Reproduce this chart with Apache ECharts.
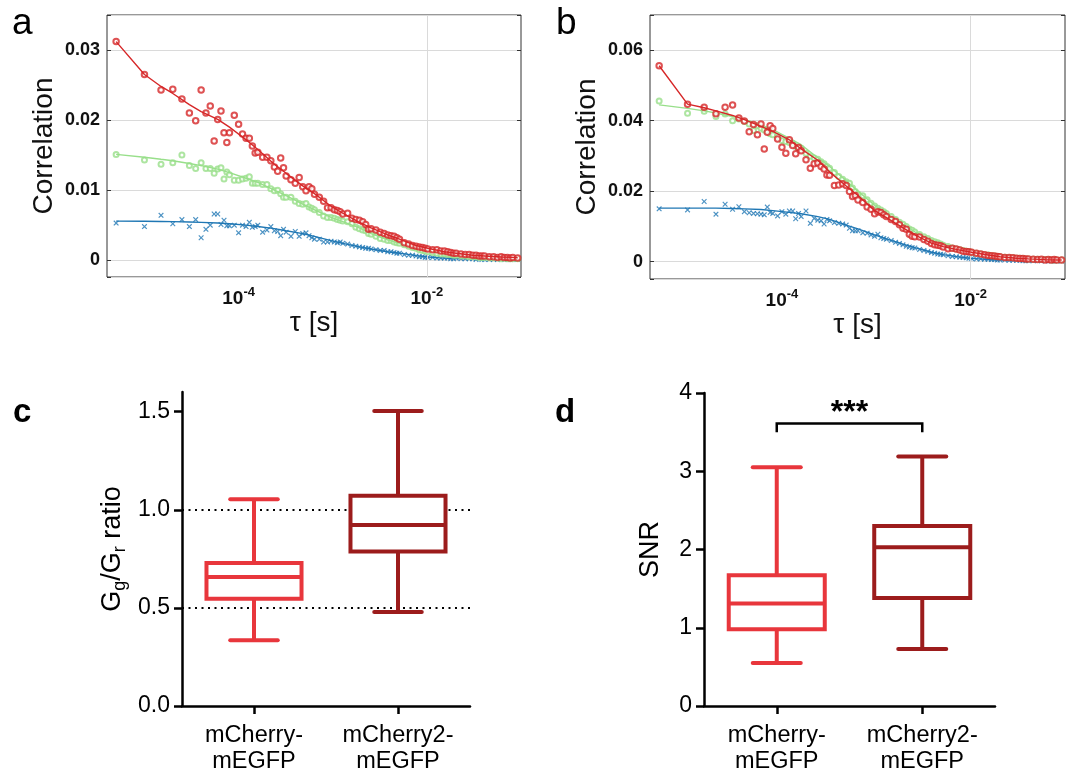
<!DOCTYPE html>
<html><head><meta charset="utf-8">
<script src="https://cdn.jsdelivr.net/npm/echarts@6/dist/echarts.min.js"></script>
<style>html,body{margin:0;padding:0;background:#fff}#c{width:1072px;height:775px}</style>
</head><body><div id="c"></div>
<script>
// ---------- data ----------
const lagStep = 5e-6; // seconds per correlator channel
const lags = [1,2,3,4,5,6,7,8,9,10,11,12,13,14,15,16,
  18,20,22,24,26,28,30,32,
  36,40,44,48,52,56,60,64,
  72,80,88,96,104,112,120,128,
  144,160,176,192,208,224,240,256,
  288,320,352,384,416,448,480,512,
  576,640,704,768,832,896,960,1024,
  1152,1280,1408,1536,1664,1792,1920,2048,
  2304,2560,2816,3072,3328,3584,3840,4096,
  4608,5120,5632,6144,6656,7168,7680,8192,
  9216,10240,11264,12288,13312,14336,15360,16384,
  18432];
const fitLags = [1,2,3,4,6,8,12,16,24,32,48,64,96,128,192,256,384,512,768,1024,1536,2048,3072,4096,6144,8192,12288,16384,18432];

// panel a
const aRed = [0.0312,0.0265,0.0243,0.0244,0.0230,0.0210,0.0199,0.0243,0.0210,0.0220,0.0170,0.0201,0.0213,0.0182,0.0168,0.0182,
  0.0207,0.0194,0.0180,0.0174,0.0174,0.0163,0.0153,0.0154,
  0.0147,0.0147,0.0142,0.0133,0.0127,0.0146,0.0132,0.0120,
  0.0115,0.0110,0.0118,0.0105,0.0099,0.0105,0.0102,0.0094,
  0.0090,0.0084,0.0075,0.0075,0.0072,0.0071,0.0069,0.0066,
  0.0067,0.0060,0.0058,0.0057,0.0055,0.0051,0.0044,0.0045,
  0.0043,0.0040,0.0038,0.0036,0.0035,0.0034,0.0032,0.0030,
  0.0025,0.0023,0.0021,0.0020,0.0019,0.0018,0.0017,0.0016,
  0.0015,0.0015,0.0013,0.0013,0.0012,0.0011,0.0010,0.0010,
  0.0009,0.0008,0.0008,0.0007,0.0007,0.0006,0.0006,0.0006,
  0.0005,0.0005,0.0004,0.0005,0.0004,0.0004,0.0003,0.0004,
  0.0003];
const aGreen = [0.0151,0.0143,0.0137,0.0139,0.0150,0.0135,0.0131,0.0139,0.0131,0.0131,0.0124,0.0130,0.0132,0.0116,0.0126,0.0122,
  0.0114,0.0114,0.0116,0.0117,0.0119,0.0110,0.0110,0.0110,
  0.0108,0.0108,0.0102,0.0099,0.0100,0.0095,0.0090,0.0090,
  0.0090,0.0084,0.0081,0.0080,0.0081,0.0076,0.0074,0.0072,
  0.0068,0.0063,0.0061,0.0061,0.0060,0.0058,0.0057,0.0056,
  0.0055,0.0052,0.0047,0.0045,0.0043,0.0042,0.0038,0.0037,
  0.0034,0.0031,0.0030,0.0028,0.0028,0.0026,0.0025,0.0024,
  0.0022,0.0020,0.0018,0.0017,0.0015,0.0014,0.0013,0.0012,
  0.0011,0.0010,0.0009,0.0009,0.0008,0.0008,0.0007,0.0007,
  0.0006,0.0006,0.0005,0.0005,0.0005,0.0004,0.0004,0.0004,
  0.0003,0.0003,0.0003,0.0002,0.0003,0.0002,0.0002,0.0002,
  0.0002];
const aBlue = [0.0053,0.0048,0.0064,0.0052,0.0058,0.0048,0.0058,0.0032,0.0044,0.0050,0.0066,0.0066,0.0051,0.0057,0.0049,0.0049,
  0.0050,0.0039,0.0050,0.0048,0.0054,0.0047,0.0048,0.0050,
  0.0040,0.0043,0.0048,0.0042,0.0041,0.0035,0.0044,0.0040,
  0.0034,0.0041,0.0034,0.0038,0.0039,0.0035,0.0032,0.0030,
  0.0030,0.0026,0.0026,0.0027,0.0026,0.0025,0.0026,0.0024,
  0.0023,0.0021,0.0020,0.0019,0.0018,0.0017,0.0017,0.0016,
  0.0015,0.0014,0.0014,0.0012,0.0012,0.0011,0.0010,0.0010,
  0.0008,0.0007,0.0007,0.0006,0.0005,0.0005,0.0004,0.0004,
  0.0004,0.0003,0.0003,0.0003,0.0003,0.0002,0.0002,0.0003,
  0.0002,0.0002,0.0002,0.0002,0.0001,0.0002,0.0001,0.0001,
  0.0001,0.0001,0.0001,0.0001,0.0001,0.0001,0.0001,0.0001,
  0.0001];
const aRedFit = [0.0312,0.0265,0.0248,0.0238,0.0222,0.0212,0.0201,0.0190,0.0172,0.0158,0.0137,0.0124,0.0106,0.0095,0.0077,0.0067,0.0054,0.0046,0.0036,0.0030,0.0021,0.0017,0.0012,0.0010,0.0007,0.0006,0.00045,0.0004,0.00035];
const aGreenFit = [0.0151,0.0147,0.0144,0.0142,0.0138,0.0135,0.0130,0.0125,0.0117,0.0111,0.0100,0.0092,0.0080,0.0072,0.0061,0.0055,0.0046,0.0038,0.0029,0.0024,0.0017,0.0013,0.0009,0.0007,0.0005,0.0004,0.0003,0.00025,0.0002];
const aBlueFit = [0.00557,0.00555,0.00553,0.0055,0.00545,0.0054,0.0053,0.0052,0.0050,0.0048,0.0045,0.0042,0.0038,0.0034,0.0028,0.0024,0.0019,0.0016,0.0012,0.0010,0.00065,0.00045,0.0003,0.00025,0.0002,0.00015,0.0001,0.0001,0.0001];

// panel b
const bRed = [0.0556,0.0447,0.0438,0.0420,0.0438,0.0445,0.0408,0.0399,0.0369,0.0389,0.0360,0.0391,0.0320,0.0367,0.0386,0.0378,
  0.0348,0.0325,0.0308,0.0346,0.0330,0.0306,0.0324,0.0315,
  0.0289,0.0265,0.0278,0.0280,0.0270,0.0263,0.0246,0.0245,
  0.0216,0.0218,0.0221,0.0216,0.0199,0.0185,0.0188,0.0175,
  0.0168,0.0155,0.0149,0.0136,0.0142,0.0140,0.0133,0.0128,
  0.0120,0.0114,0.0105,0.0095,0.0092,0.0078,0.0072,0.0071,
  0.0070,0.0063,0.0058,0.0052,0.0048,0.0047,0.0045,0.0042,
  0.0037,0.0038,0.0036,0.0033,0.0030,0.0029,0.0028,0.0027,
  0.0024,0.0022,0.0020,0.0018,0.0017,0.0016,0.0015,0.0014,
  0.0012,0.0012,0.0011,0.0010,0.0009,0.0009,0.0008,0.0008,
  0.0007,0.0006,0.0007,0.0005,0.0006,0.0005,0.0006,0.0005,
  0.0005];
const bGreen = [0.0456,0.0421,0.0427,0.0412,0.0419,0.0400,0.0405,0.0398,0.0391,0.0372,0.0386,0.0379,0.0374,0.0370,0.0363,0.0360,
  0.0355,0.0344,0.0341,0.0338,0.0336,0.0327,0.0323,0.0322,
  0.0308,0.0299,0.0294,0.0291,0.0284,0.0278,0.0270,0.0265,
  0.0253,0.0242,0.0234,0.0227,0.0223,0.0209,0.0199,0.0192,
  0.0187,0.0176,0.0166,0.0158,0.0152,0.0147,0.0142,0.0137,
  0.0128,0.0120,0.0112,0.0106,0.0100,0.0093,0.0089,0.0084,
  0.0077,0.0071,0.0066,0.0060,0.0057,0.0054,0.0050,0.0047,
  0.0043,0.0039,0.0036,0.0034,0.0032,0.0030,0.0028,0.0027,
  0.0024,0.0022,0.0020,0.0019,0.0017,0.0016,0.0015,0.0014,
  0.0013,0.0012,0.0011,0.0010,0.0010,0.0009,0.0008,0.0008,
  0.0007,0.0007,0.0006,0.0006,0.0006,0.0005,0.0005,0.0005,
  0.0005];
const bBlue = [0.0150,0.0147,0.0171,0.0135,0.0163,0.0149,0.0156,0.0142,0.0139,0.0137,0.0136,0.0135,0.0133,0.0155,0.0140,0.0137,
  0.0130,0.0142,0.0135,0.0144,0.0144,0.0122,0.0137,0.0128,
  0.0144,0.0109,0.0123,0.0118,0.0116,0.0107,0.0120,0.0116,
  0.0111,0.0109,0.0107,0.0104,0.0095,0.0088,0.0088,0.0088,
  0.0082,0.0081,0.0076,0.0072,0.0078,0.0068,0.0066,0.0064,
  0.0060,0.0055,0.0052,0.0048,0.0044,0.0042,0.0040,0.0039,
  0.0035,0.0032,0.0029,0.0026,0.0024,0.0022,0.0021,0.0020,
  0.0017,0.0015,0.0014,0.0013,0.0012,0.0011,0.0010,0.0009,
  0.0008,0.0008,0.0007,0.0007,0.0006,0.0006,0.0005,0.0005,
  0.0005,0.0004,0.0004,0.0004,0.0004,0.0003,0.0003,0.0003,
  0.0003,0.0003,0.0003,0.0002,0.0003,0.0002,0.0002,0.0002,
  0.0002];
const bRedFit = [0.0556,0.0447,0.0437,0.0428,0.0415,0.0403,0.0384,0.0370,0.0346,0.0320,0.0288,0.0255,0.0215,0.0188,0.0145,0.0125,0.0096,0.0076,0.0053,0.0043,0.0033,0.0027,0.0019,0.0014,0.0010,0.0008,0.0006,0.0005,0.0005];
const bGreenFit = [0.0445,0.0435,0.0428,0.0422,0.0412,0.0404,0.0388,0.0375,0.0350,0.0332,0.0295,0.0270,0.0230,0.0200,0.0160,0.0137,0.0106,0.0085,0.0061,0.0048,0.0034,0.0027,0.0019,0.0014,0.0010,0.0008,0.0006,0.0005,0.0005];
const bBlueFit = [0.0152,0.0152,0.0152,0.0152,0.0151,0.0150,0.0148,0.0145,0.0140,0.0136,0.0128,0.0120,0.0104,0.0093,0.0076,0.0065,0.0050,0.0040,0.0027,0.0020,0.0013,0.00095,0.00065,0.0005,0.0004,0.00035,0.00025,0.0002,0.0002];

// panels c, d: [lower whisker, Q1, median, Q3, upper whisker]
const constructs = ['mCherry-\nmEGFP', 'mCherry2-\nmEGFP'];
const ratioBoxes = [[0.335, 0.547, 0.657, 0.729, 1.054], [0.479, 0.787, 0.922, 1.071, 1.503]];
const ratioRefLines = [1.0, 0.5];
const snrBoxes = [[0.55, 0.98, 1.31, 1.67, 3.05], [0.73, 1.38, 2.03, 2.30, 3.19]];
const snrBracket = [0, 1, 3.50, 3.61];
const snrStars = '***';
const xTickLabels = [1e-4, 1e-2];

// ---------- chart ----------
const FONT = "'Liberation Sans', Arial, Helvetica, sans-serif";
const RED = '#d62728', GREEN = '#98df8a', BLUE = '#1f77b4';
const BOX_COLORS = ['#e8363c', '#9c1c1c'];
const X_SYM = 'path://M0,1.5L1.5,0L5,3.5L8.5,0L10,1.5L6.5,5L10,8.5L8.5,10L5,6.5L1.5,10L0,8.5L3.5,5Z';

const pts = vals => lags.map((l, i) => [l * lagStep, vals[i]]);
const fitPts = vals => fitLags.map((l, i) => [l * lagStep, vals[i]]);

function logFmt(v) {
  const e = Math.log10(v), r = Math.round(e);
  if (Math.abs(e - r) > 1e-6) return '';
  if (!xTickLabels.some(t => Math.abs(Math.log10(t) - r) < 1e-6)) return '';
  return '{b|10}{s|' + r + '}';
}
function xLogAxis(gi) {
  return {
    gridIndex: gi, type: 'log', logBase: 10, min: 4e-6, max: 0.1,
    axisLine: {show: false}, axisTick: {show: false}, splitLine: {show: false}, minorTick: {show: false},
    axisLabel: {formatter: logFmt, margin: 9, rich: {
      b: {fontSize: 19, fontWeight: 'bold', fontFamily: FONT, color: '#111', lineHeight: 25},
      s: {fontSize: 13, fontWeight: 'bold', fontFamily: FONT, color: '#111', padding: [0, 0, 12, 0]}
    }},
    name: 'τ [s]', nameLocation: 'middle', nameGap: 26,
    nameTextStyle: {fontSize: 28, color: '#111', fontFamily: FONT}
  };
}
function yCorrAxis(gi, min, max, step) {
  return {
    gridIndex: gi, type: 'value', min: min, max: max, minInterval: step, maxInterval: step,
    axisLine: {show: false},
    axisTick: {show: true, inside: true, length: 4, lineStyle: {color: '#333'}},
    splitLine: {show: true, lineStyle: {color: '#dadada', width: 1}},
    axisLabel: {fontSize: 18, fontWeight: 'bold', color: '#111', fontFamily: FONT, margin: 7,
      formatter: v => {
        const k = v / step;
        if (Math.abs(k - Math.round(k)) > 1e-6) return '';
        return Math.abs(v) < 1e-12 ? '0' : v.toFixed(2);
      }},
    name: 'Correlation', nameLocation: 'middle', nameGap: 49,
    nameTextStyle: {fontSize: 28, color: '#111', fontFamily: FONT}
  };
}
function yMirrorAxis(gi, min, max, step) {
  return {
    gridIndex: gi, type: 'value', position: 'right', min: min, max: max, minInterval: step, maxInterval: step,
    axisLine: {show: false}, splitLine: {show: false}, axisLabel: {show: false},
    axisTick: {show: true, inside: true, length: 4, lineStyle: {color: '#333'}}
  };
}
function corrSeries(ax, blue, blueFit, green, greenFit, red, redFit) {
  const base = {xAxisIndex: ax, yAxisIndex: ax};
  return [
    Object.assign({}, base, {type: 'line', data: [], z: 1,
      markLine: {silent: true, symbol: 'none', label: {show: false},
        lineStyle: {color: '#dadada', width: 1, type: 'solid'},
        data: xTickLabels.map(v => ({xAxis: v}))}}),
    Object.assign({}, base, {type: 'scatter', data: pts(blue), symbol: X_SYM, symbolSize: 5.5, itemStyle: {color: BLUE}, z: 3}),
    Object.assign({}, base, {type: 'line', data: fitPts(blueFit), showSymbol: false, lineStyle: {color: BLUE, width: 1.4}, z: 4}),
    Object.assign({}, base, {type: 'scatter', data: pts(green), symbol: 'emptyCircle', symbolSize: 5, itemStyle: {color: GREEN, borderWidth: 1.4}, z: 5}),
    Object.assign({}, base, {type: 'line', data: fitPts(greenFit), showSymbol: false, lineStyle: {color: GREEN, width: 1.4}, z: 6}),
    Object.assign({}, base, {type: 'scatter', data: pts(red), symbol: 'emptyCircle', symbolSize: 5.5, itemStyle: {color: RED, borderWidth: 1.7}, z: 7}),
    Object.assign({}, base, {type: 'line', data: fitPts(redFit), showSymbol: false, lineStyle: {color: RED, width: 1.4}, z: 8})
  ];
}
function catAxis(gi) {
  return {
    gridIndex: gi, type: 'category', data: constructs, boundaryGap: true,
    axisLine: {show: true, onZero: false, lineStyle: {color: '#000', width: 2.5}},
    axisTick: {show: true, alignWithLabel: true, length: 8, lineStyle: {color: '#000', width: 2.5}},
    axisLabel: {interval: 0, fontSize: 23.5, lineHeight: 26, color: '#000', fontFamily: FONT, margin: 17},
    splitLine: {show: false}
  };
}
function boxYAxis(gi, max, step, ticks, digits, name, nameGap, rich) {
  return {
    gridIndex: gi, type: 'value', min: 0, max: max, interval: step,
    axisLine: {show: true, lineStyle: {color: '#000', width: 2.5}},
    axisTick: {show: true, length: 8, lineStyle: {color: '#000', width: 2.5}, customValues: ticks},
    axisLabel: {customValues: ticks, fontSize: 23, color: '#000', fontFamily: FONT, margin: 12,
      formatter: v => (Math.abs(v / step - Math.round(v / step)) > 1e-6 ? '' : v.toFixed(digits))},
    splitLine: {show: false},
    name: name, nameLocation: 'middle', nameGap: nameGap,
    nameTextStyle: {fontSize: 27, color: '#000', fontFamily: FONT, rich: rich}
  };
}
function boxRender(params, api) {
  const i = api.value(0);
  const lo = api.coord([i, api.value(1)]), q1 = api.coord([i, api.value(2)]),
        md = api.coord([i, api.value(3)]), q3 = api.coord([i, api.value(4)]),
        hi = api.coord([i, api.value(5)]);
  const band = api.size([1, 0])[0];
  const bw = band * 0.33, cw = band * 0.165, x = md[0];
  const color = BOX_COLORS[params.dataIndex];
  const st = {stroke: color, lineWidth: 4, fill: null};
  const cap = {stroke: color, lineWidth: 4, lineCap: 'round'};
  return {type: 'group', children: [
    {type: 'line', shape: {x1: x, y1: q3[1], x2: x, y2: hi[1]}, style: st},
    {type: 'line', shape: {x1: x, y1: q1[1], x2: x, y2: lo[1]}, style: st},
    {type: 'line', shape: {x1: x - cw, y1: hi[1], x2: x + cw, y2: hi[1]}, style: cap},
    {type: 'line', shape: {x1: x - cw, y1: lo[1], x2: x + cw, y2: lo[1]}, style: cap},
    {type: 'rect', shape: {x: x - bw, y: q3[1], width: 2 * bw, height: q1[1] - q3[1]}, style: {stroke: color, lineWidth: 4, fill: '#fff'}},
    {type: 'line', shape: {x1: x - bw, y1: md[1], x2: x + bw, y2: md[1]}, style: st}
  ]};
}
function bracketRender(params, api) {
  const a0 = api.coord([api.value(0), api.value(2)]), a1 = api.coord([api.value(0), api.value(3)]);
  const b1 = api.coord([api.value(1), api.value(3)]), b0 = api.coord([api.value(1), api.value(2)]);
  return {type: 'group', children: [
    {type: 'polyline', shape: {points: [a0, a1, b1, b0]}, style: {stroke: '#000', lineWidth: 2.5, fill: null}},
    {type: 'text', x: (a1[0] + b1[0]) / 2, y: a1[1] + 6,
      style: {text: snrStars, align: 'center', verticalAlign: 'bottom', fontSize: 32, fontWeight: 'bold', fontFamily: FONT, fill: '#000'}}
  ]};
}

const chart = echarts.init(document.getElementById('c'), null, {renderer: 'canvas'});
chart.setOption({
  animation: false,
  backgroundColor: '#fff',
  grid: [
    {left: 107, top: 15, width: 414, height: 262, show: true, borderColor: '#333', borderWidth: 1, backgroundColor: 'transparent'},
    {left: 650, top: 15, width: 415, height: 264, show: true, borderColor: '#333', borderWidth: 1, backgroundColor: 'transparent'},
    {left: 182, top: 392, width: 288, height: 315},
    {left: 704, top: 393, width: 291, height: 315}
  ],
  xAxis: [xLogAxis(0), xLogAxis(1), catAxis(2), catAxis(3)],
  yAxis: [
    yCorrAxis(0, -0.0024, 0.035, 0.01),
    yCorrAxis(1, -0.0049, 0.070, 0.02),
    boxYAxis(2, 1.6, 0.5, [0, 0.5, 1, 1.5], 1, 'G{s|g}/G{s|r} ratio', 53,
      {s: {fontSize: 18, fontFamily: FONT, color: '#000', padding: [14, 0, 0, 0]}}),
    boxYAxis(3, 4, 1, [0, 1, 2, 3, 4], 0, 'SNR', 40, {}),
    yMirrorAxis(0, -0.0024, 0.035, 0.01),
    yMirrorAxis(1, -0.0049, 0.070, 0.02)
  ],
  series: [].concat(
    corrSeries(0, aBlue, aBlueFit, aGreen, aGreenFit, aRed, aRedFit),
    corrSeries(1, bBlue, bBlueFit, bGreen, bGreenFit, bRed, bRedFit),
    [
      {type: 'line', xAxisIndex: 2, yAxisIndex: 2, data: [], z: 1,
        markLine: {silent: true, symbol: 'none', label: {show: false},
          lineStyle: {color: '#000', width: 2.2, type: [2, 4.5]},
          data: ratioRefLines.map(v => ({yAxis: v}))}},
      {type: 'custom', xAxisIndex: 2, yAxisIndex: 2, z: 10, renderItem: boxRender,
        encode: {x: 0, y: [1, 2, 3, 4, 5]}, data: ratioBoxes.map((b, i) => [i].concat(b))},
      {type: 'custom', xAxisIndex: 3, yAxisIndex: 3, z: 10, renderItem: boxRender,
        encode: {x: 0, y: [1, 2, 3, 4, 5]}, data: snrBoxes.map((b, i) => [i].concat(b))},
      {type: 'custom', xAxisIndex: 3, yAxisIndex: 3, z: 10, renderItem: bracketRender,
        encode: {x: [0, 1], y: [2, 3]}, data: [snrBracket]}
    ]
  ),
  graphic: [
    {type: 'text', x: 12, y: 24, style: {text: 'a', fontSize: 37, fontFamily: FONT, fill: '#000', verticalAlign: 'middle'}},
    {type: 'text', x: 556, y: 24, style: {text: 'b', fontSize: 37, fontFamily: FONT, fill: '#000', verticalAlign: 'middle'}},
    {type: 'text', x: 13, y: 413, style: {text: 'c', fontSize: 33, fontWeight: 'bold', fontFamily: FONT, fill: '#000', verticalAlign: 'middle'}},
    {type: 'text', x: 555, y: 413, style: {text: 'd', fontSize: 33, fontWeight: 'bold', fontFamily: FONT, fill: '#000', verticalAlign: 'middle'}}
  ]
});
</script>
</body></html>
